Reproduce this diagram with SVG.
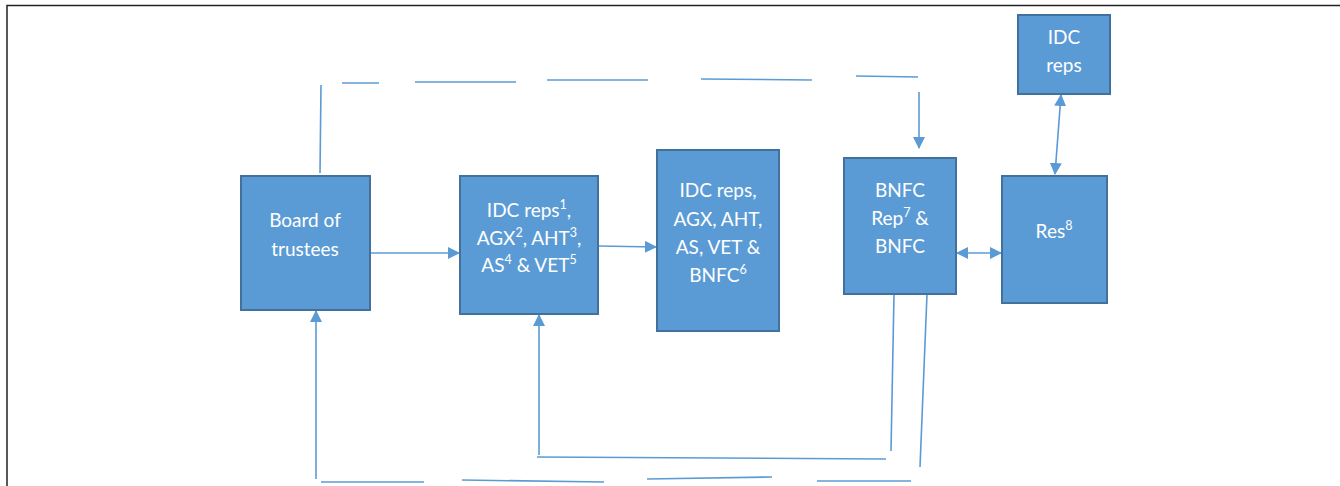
<svg xmlns="http://www.w3.org/2000/svg" width="1340" height="486" viewBox="0 0 1340 486">
<style>
.box{fill:#5B9BD5;stroke:#41719C;stroke-width:2}
.t{font-family:Lato,"Open Sans","Liberation Sans",sans-serif;font-size:19px;fill:#fff;text-anchor:middle}
.sup{font-size:12.5px}
.c{fill:none;stroke:#5B9BD5;stroke-width:1.6}
.frame{fill:none;stroke:#222;stroke-width:1.5}
</style>
<defs>
<marker id="ah" markerUnits="userSpaceOnUse" markerWidth="12" markerHeight="12" viewBox="0 0 12 12" refX="11" refY="6" orient="auto-start-reverse">
<path d="M0,0 L12,6 L0,12 Z" fill="#5B9BD5"/>
</marker>
</defs>
<rect width="1340" height="486" fill="#fff"/>
<path class="frame" d="M7,486 V5.5 H1340"/>
<g id="connectors">
<line class="c" x1="370" y1="253" x2="459" y2="253" marker-end="url(#ah)"/>
<line class="c" x1="598" y1="246" x2="656" y2="247" marker-end="url(#ah)"/>
<line class="c" x1="957" y1="253" x2="1001" y2="253" marker-start="url(#ah)" marker-end="url(#ah)"/>
<line class="c" x1="1061" y1="95" x2="1055" y2="174" marker-start="url(#ah)" marker-end="url(#ah)"/>
<line class="c" x1="320" y1="173" x2="321" y2="85"/>
<line class="c" x1="342" y1="83" x2="379" y2="83"/>
<line class="c" x1="415" y1="82" x2="516" y2="82"/>
<line class="c" x1="547" y1="80" x2="648" y2="80"/>
<line class="c" x1="701" y1="79" x2="812" y2="80"/>
<line class="c" x1="856" y1="76" x2="918" y2="77"/>
<line class="c" x1="919" y1="92" x2="919" y2="148" marker-end="url(#ah)"/>
<line class="c" x1="316" y1="479" x2="316" y2="311" marker-end="url(#ah)"/>
<line class="c" x1="539" y1="455" x2="539" y2="315" marker-end="url(#ah)"/>
<line class="c" x1="537" y1="457" x2="886" y2="459"/>
<line class="c" x1="894" y1="294" x2="891" y2="451"/>
<line class="c" x1="927" y1="294" x2="920" y2="467"/>
<line class="c" x1="321" y1="482" x2="424" y2="482"/>
<line class="c" x1="462" y1="480" x2="604" y2="482"/>
<line class="c" x1="647" y1="479" x2="772" y2="477"/>
<line class="c" x1="817" y1="481" x2="911" y2="481"/>
</g>
<g id="board">
<rect class="box" x="241" y="176" width="129" height="134"/>
<text class="t" x="305" y="227">Board of</text>
<text class="t" x="305" y="256">trustees</text>
</g>
<g id="idc-group">
<rect class="box" x="460" y="176" width="138" height="138"/>
<text class="t" x="529" y="217">IDC reps<tspan class="sup" dy="-8">1</tspan><tspan dy="8">,</tspan></text>
<text class="t" x="529" y="245">AGX<tspan class="sup" dy="-8">2</tspan><tspan dy="8">, AHT</tspan><tspan class="sup" dy="-8">3</tspan><tspan dy="8">,</tspan></text>
<text class="t" x="529" y="272">AS<tspan class="sup" dy="-8">4</tspan><tspan dy="8"> &amp; VET</tspan><tspan class="sup" dy="-8">5</tspan></text>
</g>
<g id="all-group">
<rect class="box" x="657" y="150" width="122" height="181"/>
<text class="t" x="718" y="197">IDC reps,</text>
<text class="t" x="718" y="226">AGX, AHT,</text>
<text class="t" x="718" y="254">AS, VET &amp;</text>
<text class="t" x="718" y="282">BNFC<tspan class="sup" dy="-8">6</tspan></text>
</g>
<g id="bnfc">
<rect class="box" x="844" y="158" width="112" height="136"/>
<text class="t" x="900" y="197">BNFC</text>
<text class="t" x="900" y="225">Rep<tspan class="sup" dy="-8">7</tspan><tspan dy="8"> &amp;</tspan></text>
<text class="t" x="900" y="253">BNFC</text>
</g>
<g id="res">
<rect class="box" x="1002" y="176" width="105" height="127"/>
<text class="t" x="1054" y="238">Res<tspan class="sup" dy="-8">8</tspan></text>
</g>
<g id="idc-top">
<rect class="box" x="1018" y="15" width="92" height="79"/>
<text class="t" x="1064" y="44">IDC</text>
<text class="t" x="1064" y="72">reps</text>
</g>
</svg>
